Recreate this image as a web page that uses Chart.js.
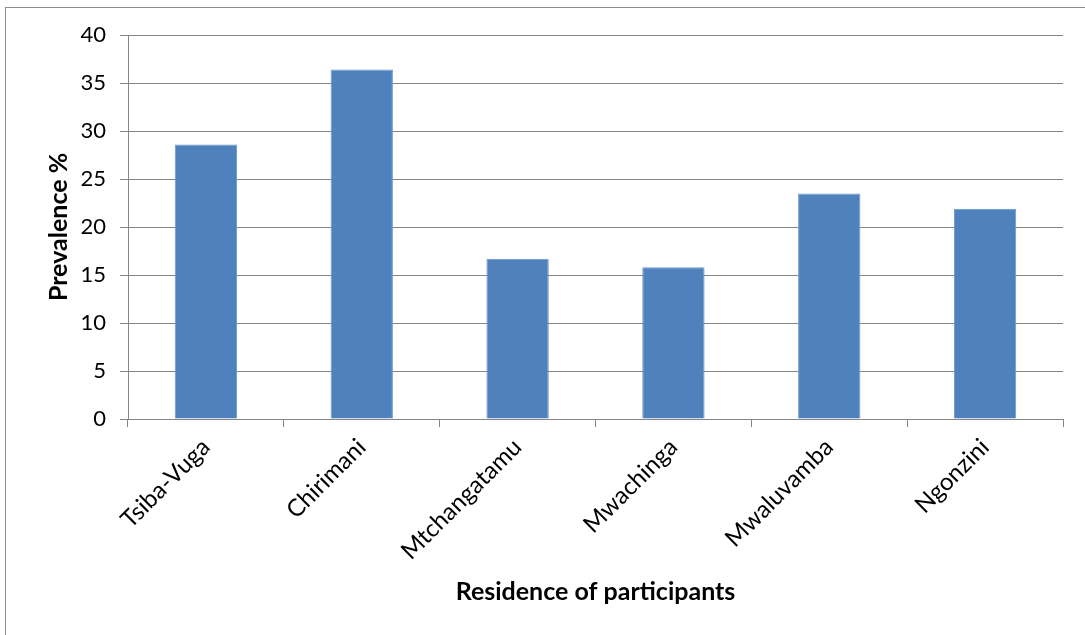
<!DOCTYPE html>
<html>
<head>
<meta charset="utf-8">
<script src="https://cdn.jsdelivr.net/npm/chart.js@4"></script>
<style>
  html, body { margin: 0; padding: 0; background: #fff; overflow: hidden; }
  #frame { position: absolute; left: 5px; top: 7px; width: 1200px; height: 700px; border-left: 1px solid #8c8c8c; border-top: 1px solid #8c8c8c; }
  #wrap { position: absolute; left: 0; top: 0; width: 1085px; height: 635px; }
</style>
</head>
<body>
<div id="frame"></div>
<div id="wrap"><canvas id="chart" width="1085" height="635"></canvas></div>
<script>
// data
const residences = ["Tsiba-Vuga", "Chirimani", "Mtchangatamu", "Mwachinga", "Mwaluvamba", "Ngonzini"];
const prevalence = [28.6, 36.4, 16.7, 15.8, 23.5, 21.9];
const yTicks = [0, 5, 10, 15, 20, 25, 30, 35, 40];

const font = "Lato, 'Open Sans', sans-serif";
const gridColor = "#868686";

new Chart(document.getElementById("chart"), {
    type: "bar",
    data: {
        labels: residences,
        datasets: [{
            data: prevalence,
            backgroundColor: "#4F81BD",
            borderColor: "#6b97cc",
            borderWidth: 1,
            categoryPercentage: 1,
            barPercentage: 0.4
        }]
    },
    options: {
        responsive: false,
        animation: false,
        layout: { padding: { left: 40, top: 35, right: 22, bottom: 24 } },
        plugins: { legend: { display: false }, tooltip: { enabled: false } },
        scales: {
            x: {
                grid: { offset: true, drawOnChartArea: false, drawTicks: true, tickLength: 8, color: gridColor },
                border: { color: gridColor },
                ticks: { color: "#000", font: { family: font, size: 24 }, minRotation: 45, maxRotation: 45, padding: 6 },
                title: { display: true, text: "Residence of participants", color: "#000", font: { family: font, size: 25, weight: "bold" } },
                afterFit: (s) => { s.height = 192; }
            },
            y: {
                min: 0,
                max: 40,
                afterBuildTicks: (s) => { s.ticks = yTicks.map(v => ({ value: v })); },
                grid: { tickLength: 8, color: gridColor },
                border: { color: gridColor },
                ticks: { color: "#000", font: { family: font, size: 22 }, padding: 14 },
                title: { display: true, text: "Prevalence %", color: "#000", font: { family: font, size: 25, weight: "bold" } },
                afterFit: (s) => { s.width = 88; }
            }
        }
    }
});
</script>
</body>
</html>
